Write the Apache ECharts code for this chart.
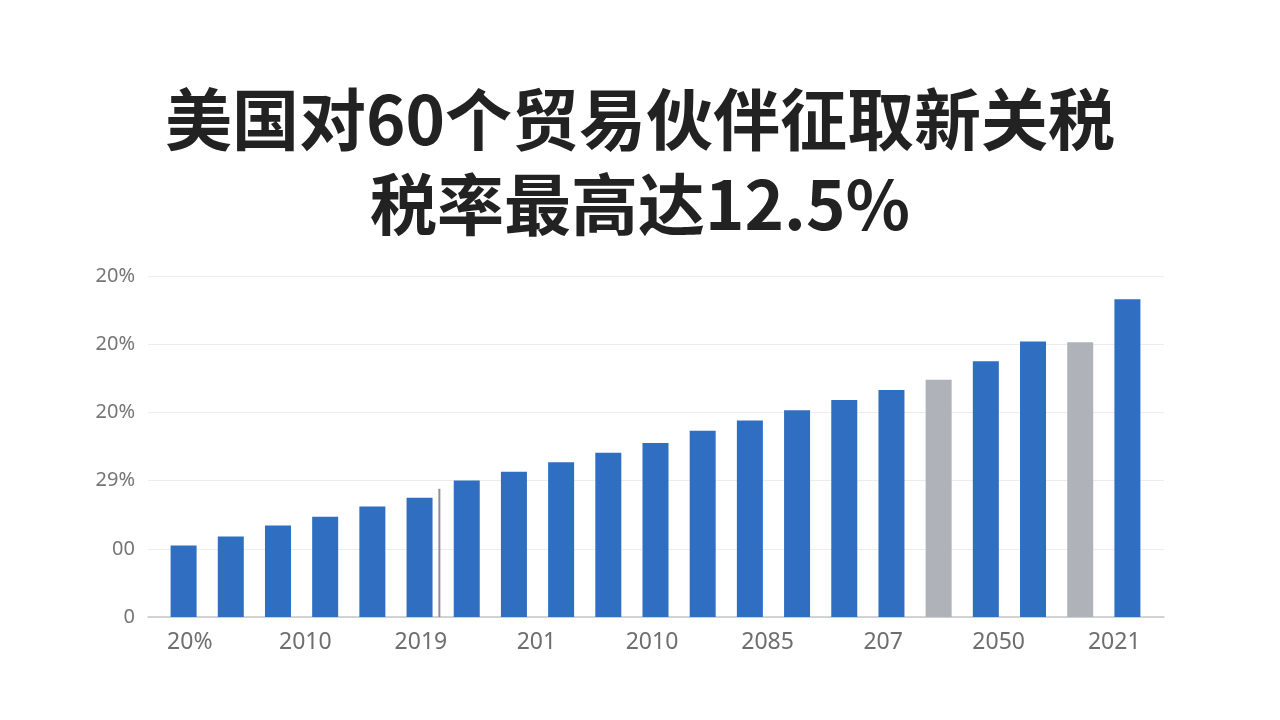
<!DOCTYPE html>
<html lang="zh-CN">
  <head>
    <meta charset="UTF-8" />
    <title>美国对60个贸易伙伴征取新关税</title>
    <script src="https://cdn.jsdelivr.net/npm/echarts@6/dist/echarts.min.js"></script>
    <style>
      html, body { margin: 0; padding: 0; background: #fff; }
      #chart { width: 1280px; height: 720px; }
    </style>
  </head>
  <body>
    <div id="chart"></div>
    <script>
      // 数据（按图读取，估计值）
      const barKeys = ['1', '2', '3', '4', '5', '6', '7', '8', '9', '10', '11',
        '12', '13', '14', '15', '16', '17', '18', '19', '20', '21']
      const barValues = [1.05, 1.18, 1.34, 1.47, 1.62, 1.75, 2.00, 2.13, 2.27, 2.41, 2.55,
        2.73, 2.88, 3.03, 3.18, 3.33, 3.48, 3.75, 4.04, 4.03, 4.66]
      const grayBars = [16, 19] // 灰色柱的序号
      const markerLine = [[5, 1.88]] // 第6根柱后的细竖线
      const xLabels = ['20%', '2010', '2019', '201', '2010', '2085', '207', '2050', '2021']
      const yLabels = ['0', '00', '29%', '20%', '20%', '20%']

      const BLUE = '#2f6ec1'
      const GRAY = '#afb2b8'
      const gridTop = 276, gridBottom = 103

      const chart = echarts.init(document.getElementById('chart'))
      const option = {
        backgroundColor: '#fff',
        animation: false,
        title: {
          text: '美国对60个贸易伙伴征取新关税\n税率最高达12.5%',
          left: 'center',
          top: 72,
          textStyle: {
            fontFamily: 'Noto Sans CJK SC',
            fontSize: 67,
            fontWeight: 'bold',
            color: '#222',
            lineHeight: 85
          }
        },
        grid: [
          { left: 148, right: 116, top: gridTop, bottom: gridBottom }, // 网格线和坐标轴
          { left: 160, right: 129, top: gridTop, bottom: gridBottom }, // 柱子
          { left: 132, right: 108, top: gridTop, bottom: gridBottom }  // x轴标签
        ],
        xAxis: [
          {
            gridIndex: 0, type: 'category', data: xLabels,
            axisLine: { lineStyle: { color: '#c4c6c9', width: 1.5 } },
            axisTick: { show: false },
            axisLabel: { show: false }
          },
          {
            gridIndex: 1, type: 'category', data: barKeys, show: false
          },
          {
            gridIndex: 2, type: 'category', data: xLabels,
            axisLine: { show: false },
            axisTick: { show: false },
            axisLabel: {
              color: '#6e6e6e', fontSize: 23, fontFamily: 'Noto Sans', margin: 14
            }
          }
        ],
        yAxis: [
          {
            gridIndex: 0, type: 'value', min: 0, max: 5, interval: 1,
            axisLine: { show: false },
            axisTick: { show: false },
            splitLine: { lineStyle: { color: '#ececec' } },
            axisLabel: {
              color: '#767676', fontSize: 20, fontFamily: 'Noto Sans', margin: 13,
              formatter: v => yLabels[Math.round(v)]
            }
          },
          { gridIndex: 1, type: 'value', min: 0, max: 5, show: false },
          { gridIndex: 2, type: 'value', min: 0, max: 5, show: false }
        ],
        series: [
          {
            type: 'bar',
            xAxisIndex: 1, yAxisIndex: 1,
            barWidth: 26,
            data: barValues.map((v, i) => ({
              value: v,
              itemStyle: { color: grayBars.includes(i) ? GRAY : BLUE }
            }))
          },
          {
            type: 'custom',
            xAxisIndex: 1, yAxisIndex: 1,
            data: markerLine,
            renderItem: (params, api) => {
              const p = api.coord([api.value(0), api.value(1)])
              const base = api.coord([api.value(0), 0])
              const band = api.size([1, 0])[0]
              const x = p[0] + band * 0.42
              return {
                type: 'line',
                shape: { x1: x, y1: p[1], x2: x, y2: base[1] },
                style: { stroke: '#8d9197', lineWidth: 2 }
              }
            }
          }
        ]
      }
      chart.setOption(option)
    </script>
  </body>
</html>
